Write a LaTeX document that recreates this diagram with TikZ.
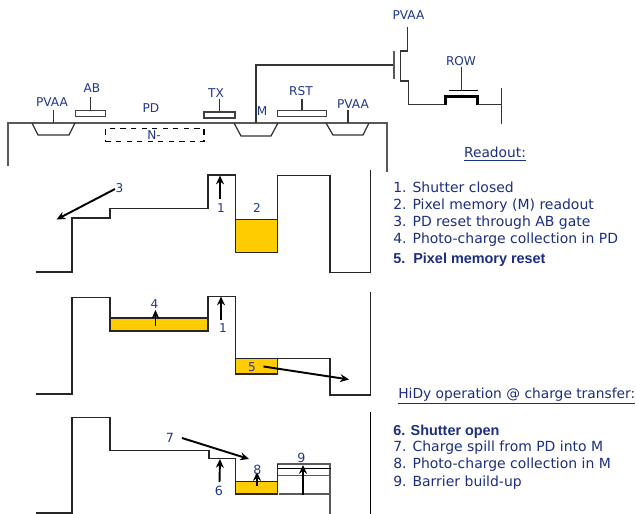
\documentclass[tikz,border=0pt]{standalone}
\usepackage{fontspec}
\setmainfont{DejaVu Sans}
\newfontfamily\boldfont{Liberation Sans Bold}
\usepackage{xcolor}
\usetikzlibrary{arrows.meta}
\definecolor{labelblue}{RGB}{32,54,140}
\definecolor{listblue}{RGB}{28,46,125}
\definecolor{chargefill}{RGB}{255,204,0}
\begin{document}
\begin{tikzpicture}[
    x=0.02cm, y=-0.02cm,
    font=\fontsize{6.9}{8}\selectfont,
    tag/.style={text=labelblue, inner sep=0pt},
    listitem/.style={text=listblue, anchor=west, inner sep=0pt, font=\fontsize{7.95}{9}\selectfont},
    listbold/.style={listitem, font=\fontsize{8.2}{9}\selectfont\boldfont},
    heading/.style={text=listblue, inner sep=0pt, font=\fontsize{7.85}{9}\selectfont},
    gate/.style={draw=black!75, line width=0.7pt, minimum height=0.12cm, inner sep=0pt, fill=white},
    wire/.style={line width=0.7pt, draw=black!80},
    band/.style={line width=0.75pt, draw=black!85},
    charge/.style={draw=black!85, line width=0.75pt, fill=chargefill},
    arrow/.style={-{Stealth[length=5pt,width=4.5pt]}, line width=1.1pt, draw=black}
]
\useasboundingbox (0,0) rectangle (636,514);

% substrate and implants
\draw [wire, draw=black!65, line width=0.9pt] (8,166) -- (8,123) -- (387,123) -- (387,172);
\draw [wire] (32,123) -- (38,135) -- (69,135) -- (75,123);
\draw [wire] (234,123) -- (241,136) -- (271,136) -- (278,123);
\draw [wire] (326,123) -- (333,135) -- (363,135) -- (369,123);
\node (nminus) [draw, dashed, line width=0.8pt, minimum width=1.97cm, minimum height=0.26cm, inner sep=0pt] at (154.75,135) {};
\node [tag] at (154,135) {N-};

% gates
\node (abgate)  [gate, minimum width=0.6cm]  at (90.5,113.5) {};
\node (txgate)  [gate, minimum width=0.62cm] at (219.5,115) {};
\node (rstgate) [gate, minimum width=0.98cm] at (302,113.5) {};
\draw [wire] (abgate.north) -- ++(0,-13);
\draw [wire] (txgate.north) -- ++(0,-12);
\draw [wire] (rstgate.north) -- ++(0,-10.5);
\draw [wire] (53.5,123) -- (53.5,110);
\draw [wire] (348,123) -- (348,110);

\node (pvaal) [tag] at (52,102) {PVAA};
\node (ab)    [tag] at (92,88)  {AB};
\node (pd)    [tag] at (151,108) {PD};
\node (tx)    [tag] at (216,93) {TX};
\node (m)     [tag] at (262,111) {M};
\node (rst)   [tag] at (301,91) {RST};
\node (pvaar) [tag] at (353,104) {PVAA};

% readout transistors
\draw [wire] (256,123) -- (256,65) -- (394,65);
\draw [wire, line width=0.9pt, draw=black!65] (394,51) -- (394,79);
\draw [wire] (407.5,27) -- (407.5,51) -- (400.5,51) -- (400.5,81) -- (408.5,81) -- (408.5,104.5) -- (445.5,104.5);
\draw [wire, line width=1.2pt, draw=black] (445.5,104.5) -- (445.5,96.5) -- (477.5,96.5) -- (477.5,104.5);
\draw [wire] (477.5,104.5) -- (501.7,104.5);
\draw [wire] (501.7,87.5) -- (501.7,124);
\draw [wire, draw=black] (448.5,90.5) -- (477.5,90.5);
\draw [wire] (461.5,90.5) -- (461.5,67);
\node (pvaat) [tag] at (408.5,15) {PVAA};
\node (row)   [tag] at (461,61) {ROW};

% band 1
\node (mem1) [charge, minimum width=0.83cm, minimum height=0.66cm, inner sep=0pt] at (256.5,235.75) {};
\draw [band] (36,272) -- (72,272) -- (72,218) -- (110,218) -- (110,208.5) -- (208,208.5) -- (208,175) -- (235.7,175) -- (235.7,252);
\draw [band] (277.3,253) -- (277.3,175.5) -- (330,175.5) -- (330,272.5) -- (370.3,272.5) -- (370.3,170);
\coordinate (a3s) at (115,189);
\coordinate (a3e) at (56.5,219.5);
\coordinate (a1s) at (220,199);
\coordinate (a1e) at (220,175.5);
\draw [arrow] (a3s) -- (a3e);
\draw [arrow] (a1s) -- (a1e);
\node (n3) [tag] at (119.5,188.5) {3};
\node (n1) [tag] at (221,208) {1};
\node (n2) [tag] at (257,208) {2};

% band 2
\node (pd2)  [charge, minimum width=1.96cm, minimum height=0.26cm, inner sep=0pt] at (159,324.5) {};
\node (mem2) [charge, minimum width=0.83cm, minimum height=0.31cm, inner sep=0pt] at (256.5,366.25) {};
\draw [band] (36,394) -- (72,394) -- (72,297.5) -- (110,297.5) -- (110,318);
\draw [band] (208,318) -- (208,296.5) -- (235.7,296.5) -- (235.7,358.5);
\draw [band] (277,358.5) -- (330,358.5) -- (330,395) -- (370.3,395) -- (370.3,292);
\coordinate (a4s) at (155.5,326);
\coordinate (a4e) at (155.5,310);
\coordinate (b1s) at (221,320);
\coordinate (b1e) at (221,296.5);
\coordinate (a5s) at (263.5,366.5);
\coordinate (a5e) at (349,379.5);
\draw [arrow] (a4s) -- (a4e);
\draw [arrow] (b1s) -- (b1e);
\draw [arrow] (a5s) -- (a5e);
\node (n4)  [tag] at (154.5,304) {4};
\node (n1b) [tag] at (223,328) {1};
\node (n5)  [tag] at (252,367) {5};

% band 3
\node (mem3) [charge, minimum width=0.83cm, minimum height=0.25cm, inner sep=0pt] at (256.5,487.75) {};
\draw [band] (36,513) -- (72,513) -- (72,417.5) -- (110,417.5) -- (110,450.5) -- (209,450.5) -- (209,458.5) -- (235.7,458.5) -- (235.7,481.5);
\draw [band, draw=black!65] (277.3,464) -- (330,464) -- (330,514);
\draw [band, draw=black] (277,468.5) -- (331,468.5);
\draw [band, draw=black!65] (277.3,475.5) -- (330,475.5);
\draw [band, draw=black!65] (279,494) -- (330,494);
\draw [band] (277.3,464) -- (277.3,494);
\draw [band, draw=black] (370.3,412) -- (370.3,514);
\coordinate (a7s) at (182,438);
\coordinate (a7e) at (249,459);
\coordinate (a6s) at (219.5,482);
\coordinate (a6e) at (220,459);
\coordinate (a8s) at (257,486);
\coordinate (a8e) at (257,472);
\coordinate (a9s) at (303,495);
\coordinate (a9e) at (303,465);
\draw [arrow] (a7s) -- (a7e);
\draw [arrow] (a6s) -- (a6e);
\draw [arrow] (a8s) -- (a8e);
\draw [arrow] (a9s) -- (a9e);
\node (n7) [tag, font=\fontsize{7.2}{8}\selectfont] at (170,438) {7};
\node (n6) [tag, font=\fontsize{7.2}{8}\selectfont] at (219,491) {6};
\node (n8) [tag, font=\fontsize{7.2}{8}\selectfont] at (257.5,469.5) {8};
\node (n9) [tag, font=\fontsize{7.2}{8}\selectfont] at (301.5,457.5) {9};

% text on the right
\node (readout) [heading] at (495,154) {\underline{Readout:}};
\node (r1) [listitem] at (393,187.7) {1. Shutter closed};
\node (r2) [listitem] at (393,206)   {2. Pixel memory (M) readout};
\node (r3) [listitem] at (393,223)   {3. PD reset through AB gate};
\node (r4) [listitem] at (393,240)   {4. Photo-charge collection in PD};
\node (r5) [listbold] at (393,260)   {5.\ \ Pixel memory reset};

\node (hidy) [heading, anchor=west] at (398,396) {\underline{HiDy operation @ charge transfer:}};
\node (h6) [listbold] at (393,431.7) {6. Shutter open};
\node (h7) [listitem] at (393,448)   {7. Charge spill from PD into M};
\node (h8) [listitem] at (393,465)   {8. Photo-charge collection in M};
\node (h9) [listitem] at (393,482.5) {9. Barrier build-up};
\end{tikzpicture}
\end{document}
